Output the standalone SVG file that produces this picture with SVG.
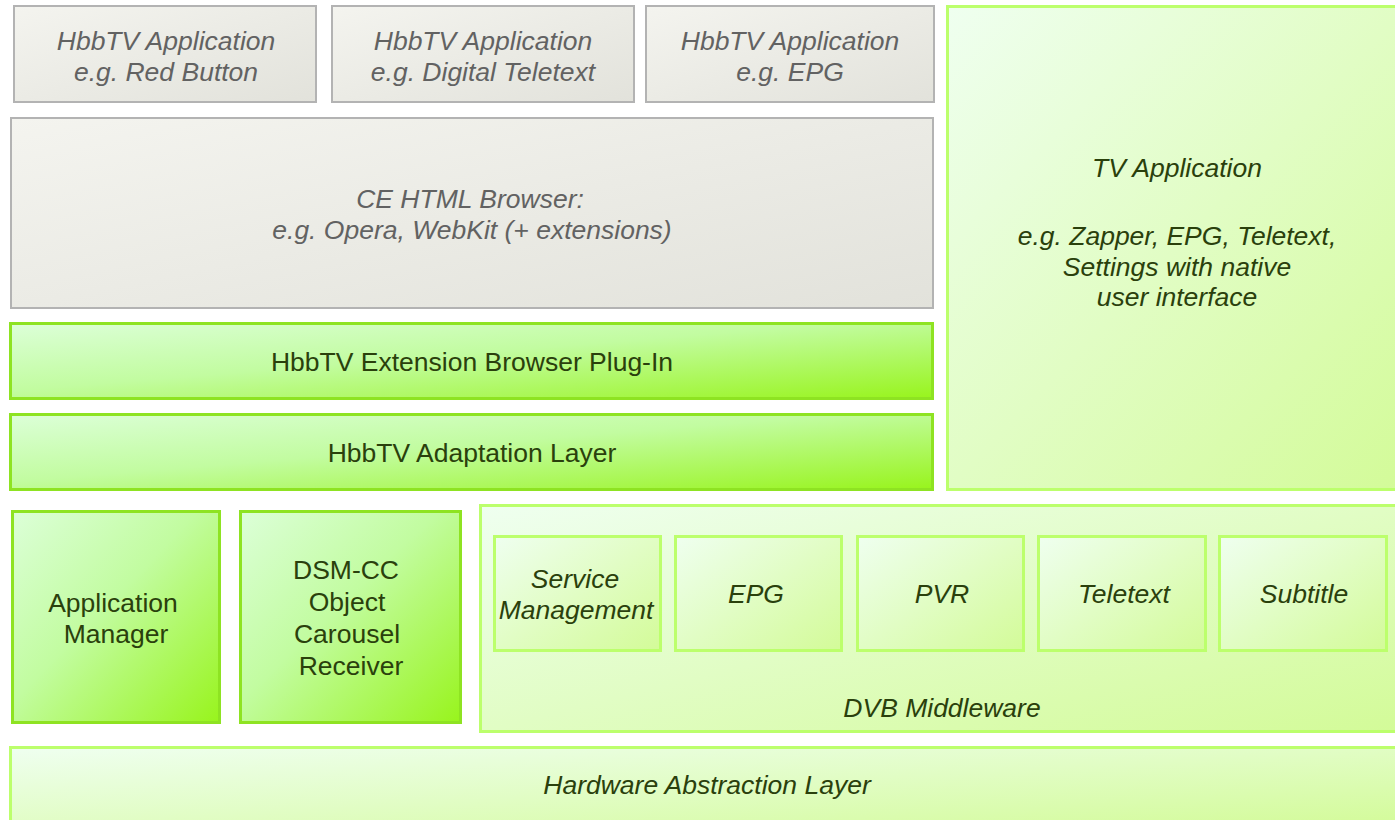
<svg xmlns="http://www.w3.org/2000/svg" width="1395" height="820" viewBox="0 0 1395 820">
<defs>
<linearGradient id="gGray" x1="0" y1="0" x2="1" y2="1">
<stop offset="0" stop-color="#f4f4ef"/>
<stop offset="1" stop-color="#e2e2db"/>
</linearGradient>
<linearGradient id="gBright" x1="0" y1="0" x2="1" y2="1">
<stop offset="0" stop-color="#dcffd8"/>
<stop offset="0.45" stop-color="#c2fca0"/>
<stop offset="1" stop-color="#98f41c"/>
</linearGradient>
<linearGradient id="gLight" x1="0" y1="0" x2="1" y2="1">
<stop offset="0" stop-color="#effff0"/>
<stop offset="1" stop-color="#d3fb98"/>
</linearGradient>
</defs>
<style>
.gray{fill:url(#gGray);stroke:#b3b3b3;stroke-width:2}
.bright{fill:url(#gBright);stroke:#8ee322;stroke-width:3}
.light{fill:url(#gLight);stroke:#bcff6c;stroke-width:3}
text{font-family:"Liberation Sans",Arial,sans-serif;font-size:26.5px;text-anchor:middle}
.tg{fill:#626262;font-style:italic}
.tn{fill:#2a400c}
.ti{fill:#2a400c;font-style:italic}
</style>
<rect width="1395" height="820" fill="#ffffff"/>
<g id="app-red-button">
<rect class="gray" x="14" y="6" width="302" height="96"/>
<text class="tg" x="166" y="50">HbbTV Application</text>
<text class="tg" x="166" y="81">e.g. Red Button</text>
</g>
<g id="app-digital-teletext">
<rect class="gray" x="332" y="6" width="302" height="96"/>
<text class="tg" x="483" y="50">HbbTV Application</text>
<text class="tg" x="483" y="81">e.g. Digital Teletext</text>
</g>
<g id="app-epg">
<rect class="gray" x="646" y="6" width="288" height="96"/>
<text class="tg" x="790" y="50">HbbTV Application</text>
<text class="tg" x="790" y="81">e.g. EPG</text>
</g>
<g id="ce-html-browser">
<rect class="gray" x="11" y="118" width="922" height="190"/>
<text class="tg" x="470" y="208">CE HTML Browser:</text>
<text class="tg" x="472" y="239">e.g. Opera, WebKit (+ extensions)</text>
</g>
<g id="plugin">
<rect class="bright" x="10.5" y="323.5" width="922" height="75"/>
<text class="tn" x="472" y="371">HbbTV Extension Browser Plug-In</text>
</g>
<g id="adaptation">
<rect class="bright" x="10.5" y="414.5" width="922" height="75"/>
<text class="tn" x="472" y="462">HbbTV Adaptation Layer</text>
</g>
<g id="tv-application">
<rect class="light" x="947.5" y="6.5" width="460" height="483"/>
<text class="ti" x="1177" y="177">TV Application</text>
<text class="ti" x="1177" y="245">e.g. Zapper, EPG, Teletext,</text>
<text class="ti" x="1177" y="276">Settings with native</text>
<text class="ti" x="1177" y="306">user interface</text>
</g>
<g id="application-manager">
<rect class="bright" x="12.5" y="511.5" width="207" height="211"/>
<text class="tn" x="113" y="612">Application</text>
<text class="tn" x="116" y="643">Manager</text>
</g>
<g id="dsmcc">
<rect class="bright" x="240.5" y="511.5" width="220" height="211"/>
<text class="tn" x="346" y="579">DSM-CC</text>
<text class="tn" x="347" y="611">Object</text>
<text class="tn" x="347" y="643">Carousel</text>
<text class="tn" x="351" y="675">Receiver</text>
</g>
<g id="dvb-middleware">
<rect class="light" x="480.5" y="505.5" width="920" height="226"/>
<text class="ti" x="942" y="717">DVB Middleware</text>
</g>
<g id="service-management">
<rect class="light" x="494.5" y="536.5" width="166" height="114"/>
<text class="ti" x="575" y="588">Service</text>
<text class="ti" x="576" y="619">Management</text>
</g>
<g id="epg">
<rect class="light" x="675.5" y="536.5" width="166" height="114"/>
<text class="ti" x="756" y="603">EPG</text>
</g>
<g id="pvr">
<rect class="light" x="857.5" y="536.5" width="166" height="114"/>
<text class="ti" x="942" y="603">PVR</text>
</g>
<g id="teletext">
<rect class="light" x="1038.5" y="536.5" width="167" height="114"/>
<text class="ti" x="1124" y="603">Teletext</text>
</g>
<g id="subtitle">
<rect class="light" x="1219.5" y="536.5" width="167" height="114"/>
<text class="ti" x="1304" y="603">Subtitle</text>
</g>
<g id="hal">
<rect class="light" x="10.5" y="747.5" width="1390" height="80"/>
<text class="ti" x="707" y="794">Hardware Abstraction Layer</text>
</g>
<g id="connectors"/>
</svg>
